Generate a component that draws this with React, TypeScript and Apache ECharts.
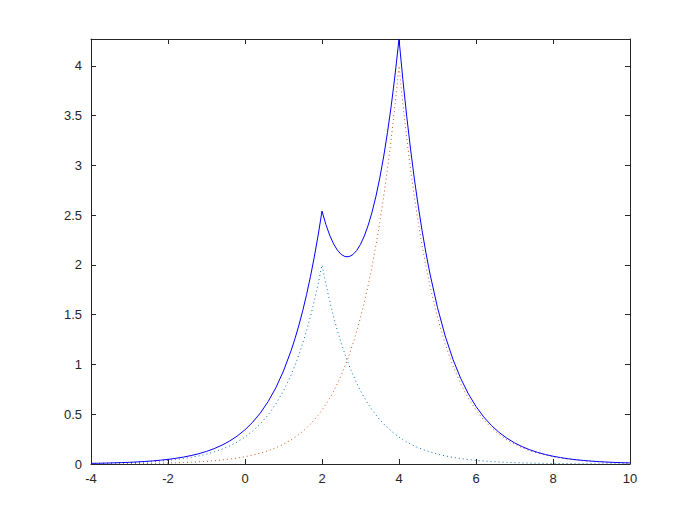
import React, { useEffect, useRef } from "react";
import * as echarts from "echarts";

const xs = [
  -4, -3.8, -3.6, -3.4, -3.2, -3, -2.8, -2.6, -2.4, -2.2, -2, -1.8, -1.6, -1.4, -1.2, -1, -0.8, -0.6, -0.4, -0.2,
  0, 0.2, 0.4, 0.6, 0.8, 1,
  1.2, 1.3, 1.4, 1.5, 1.6, 1.7, 1.8, 1.9, 2, 2.1, 2.2, 2.3, 2.4, 2.5, 2.6, 2.7, 2.8, 2.9, 3, 3.1, 3.2, 3.3, 3.4, 3.5,
  3.6, 3.7, 3.8, 3.9, 4, 4.1, 4.2, 4.3, 4.4, 4.5, 4.6, 4.7, 4.8,
  5, 5.2, 5.4, 5.6, 5.8, 6, 6.2, 6.4, 6.6, 6.8, 7, 7.2, 7.4, 7.6, 7.8,
  8, 8.2, 8.4, 8.6, 8.8, 9, 9.2, 9.4, 9.6, 9.8, 10,
];

const peakAt2 = [
  0.005, 0.0061, 0.0074, 0.009, 0.011, 0.0135, 0.0165, 0.0201, 0.0246, 0.03, 0.0366, 0.0447, 0.0546, 0.0667, 0.0815, 0.0996, 0.1216, 0.1485, 0.1814, 0.2216,
  0.2707, 0.3306, 0.4038, 0.4932, 0.6024, 0.7358,
  0.8987, 0.9932, 1.0976, 1.2131, 1.3406, 1.4816, 1.6375, 1.8097, 2.0, 1.8097, 1.6375, 1.4816, 1.3406, 1.2131, 1.0976, 0.9932, 0.8987, 0.8131, 0.7358, 0.6657, 0.6024, 0.5451, 0.4932, 0.4463,
  0.4038, 0.3654, 0.3306, 0.2991, 0.2707, 0.2449, 0.2216, 0.2005, 0.1814, 0.1642, 0.1485, 0.1344, 0.1216,
  0.0996, 0.0815, 0.0667, 0.0546, 0.0447, 0.0366, 0.03, 0.0246, 0.0201, 0.0165, 0.0135, 0.011, 0.009, 0.0074, 0.0061,
  0.005, 0.0041, 0.0033, 0.0027, 0.0022, 0.0018, 0.0015, 0.0012, 0.001, 0.0008, 0.0007,
];

const peakAt4 = [
  0.0014, 0.0016, 0.002, 0.0024, 0.003, 0.0036, 0.0044, 0.0054, 0.0066, 0.0081, 0.0099, 0.0121, 0.0148, 0.0181, 0.0221, 0.027, 0.0329, 0.0402, 0.0491, 0.06,
  0.0733, 0.0895, 0.1093, 0.1335, 0.163, 0.1992,
  0.2432, 0.2688, 0.2971, 0.3283, 0.3629, 0.401, 0.4432, 0.4898, 0.5414, 0.5983, 0.6612, 0.7307, 0.8076, 0.8925, 0.9864, 1.0901, 1.2048, 1.3315, 1.4715, 1.6263, 1.7973, 1.9863, 2.1952, 2.4261,
  2.6813, 2.9633, 3.2749, 3.6194, 4.0, 3.6194, 3.2749, 2.9633, 2.6813, 2.4261, 2.1952, 1.9863, 1.7973,
  1.4715, 1.2048, 0.9864, 0.8076, 0.6612, 0.5414, 0.4432, 0.3629, 0.2971, 0.2432, 0.1992, 0.163, 0.1335, 0.1093, 0.0895,
  0.0733, 0.06, 0.0491, 0.0402, 0.0329, 0.027, 0.0221, 0.0181, 0.0148, 0.0121, 0.0099,
];

const total = [
  0.0063, 0.0077, 0.0094, 0.0115, 0.014, 0.0171, 0.0209, 0.0255, 0.0312, 0.0381, 0.0466, 0.0569, 0.0694, 0.0848, 0.1036, 0.1265, 0.1545, 0.1887, 0.2306, 0.2816,
  0.344, 0.4201, 0.5131, 0.6267, 0.7654, 0.9349,
  1.1419, 1.262, 1.3947, 1.5414, 1.7035, 1.8827, 2.0807, 2.2995, 2.5414, 2.4079, 2.2987, 2.2124, 2.1482, 2.1056, 2.084, 2.0833, 2.1034, 2.1446, 2.2073, 2.292, 2.3997, 2.5314, 2.6884, 2.8724,
  3.0851, 3.3286, 3.6055, 3.9185, 4.2707, 3.8643, 3.4965, 3.1638, 2.8627, 2.5903, 2.3438, 2.1208, 1.9189,
  1.5711, 1.2863, 1.0531, 0.8622, 0.7059, 0.578, 0.4732, 0.3874, 0.3172, 0.2597, 0.2126, 0.1741, 0.1425, 0.1167, 0.0955,
  0.0782, 0.0641, 0.0524, 0.0429, 0.0351, 0.0288, 0.0236, 0.0193, 0.0158, 0.0129, 0.0106,
];

const xTicks = [-4, -2, 0, 2, 4, 6, 8, 10];
const yTicks = [0, 0.5, 1, 1.5, 2, 2.5, 3, 3.5, 4];

export default function App() {
  const ref = useRef<HTMLDivElement>(null);
  useEffect(() => {
    if (!ref.current) return;
    const chart = echarts.init(ref.current, undefined, { renderer: "svg" });
    const pair = (ys: number[]) => xs.map((x, i) => [x, ys[i]]);
    const axisColor = "#262626";
    const font = { fontFamily: "Liberation Sans", fontSize: 13, color: axisColor };
    const yMax = Math.max(...total);
    const axisLine = { show: true, onZero: false, lineStyle: { color: axisColor, width: 1 } };
    const axisTick = { show: true, inside: true, length: 5, lineStyle: { color: axisColor } };
    const xAxisBase = {
      type: "value" as const,
      min: -4,
      max: 10,
      interval: 2,
      splitLine: { show: false },
      axisLine,
      axisTick,
    };
    const yAxisBase = {
      type: "value" as const,
      min: 0,
      max: yMax,
      interval: 0.5,
      splitLine: { show: false },
      axisLine,
      axisTick,
    };
    const isTick = (v: number, list: number[]) => list.some((t) => Math.abs(t - v) < 1e-6);
    chart.setOption({
      animation: false,
      backgroundColor: "#ffffff",
      grid: { left: 91, right: 67, top: 39, bottom: 59, containLabel: false },
      xAxis: [
        {
          ...xAxisBase,
          position: "bottom",
          axisLabel: { ...font, margin: 8, formatter: (v: number) => (isTick(v, xTicks) ? String(v) : "") },
        },
        { ...xAxisBase, position: "top", axisLabel: { show: false } },
      ],
      yAxis: [
        {
          ...yAxisBase,
          position: "left",
          axisLabel: { ...font, margin: 9, formatter: (v: number) => (isTick(v, yTicks) ? String(v) : "") },
        },
        { ...yAxisBase, position: "right", axisLabel: { show: false } },
      ],
      series: [
        {
          type: "line",
          data: pair(peakAt2),
          showSymbol: false,
          lineStyle: { color: "#0072BD", width: 1, type: [1, 3] },
          z: 2,
        },
        {
          type: "line",
          data: pair(peakAt4),
          showSymbol: false,
          lineStyle: { color: "#D95319", width: 1, type: [1, 3] },
          z: 2,
        },
        {
          type: "line",
          data: pair(total),
          showSymbol: false,
          lineStyle: { color: "#0000FF", width: 1 },
          z: 3,
        },
      ],
    });
    return () => chart.dispose();
  }, []);
  return <div ref={ref} style={{ width: 697, height: 523, position: "absolute", left: 0, top: 0 }} />;
}
